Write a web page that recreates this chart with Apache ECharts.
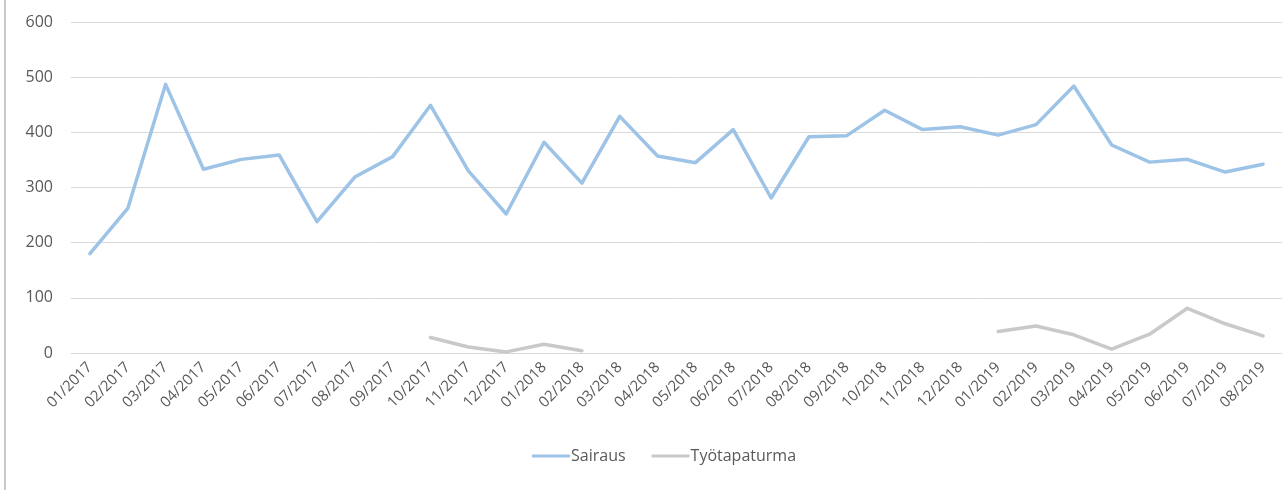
<!DOCTYPE html>
<html>
<head>
<meta charset="utf-8">
<script src="https://cdn.jsdelivr.net/npm/echarts@6/dist/echarts.min.js"></script>
<style>
  html, body { margin: 0; padding: 0; background: #fff; }
  #chart { width: 1282px; height: 490px; }
  #frame { position: absolute; left: 4px; top: 0; width: 2px; height: 490px; background: #c8c8c8; }
</style>
</head>
<body>
<div id="frame"></div>
<div id="chart"></div>
<script>
const months = ['01/2017', '02/2017', '03/2017', '04/2017', '05/2017', '06/2017', '07/2017', '08/2017',
  '09/2017', '10/2017', '11/2017', '12/2017', '01/2018', '02/2018', '03/2018', '04/2018', '05/2018',
  '06/2018', '07/2018', '08/2018', '09/2018', '10/2018', '11/2018', '12/2018', '01/2019', '02/2019',
  '03/2019', '04/2019', '05/2019', '06/2019', '07/2019', '08/2019'];

const sairaus = [180, 262, 487, 333, 351, 359, 238, 319, 356, 449, 330, 252, 382, 308, 429, 357,
  345, 405, 281, 392, 394, 440, 405, 410, 395, 414, 484, 377, 346, 351, 328, 342];

const tyotapaturma = [null, null, null, null, null, null, null, null, null, 28, 11, 2, 16, 4, null, null,
  null, null, null, null, null, null, null, null, 39, 49, 33, 7, 34, 81, 53, 31];

const yTicks = { min: 0, max: 600, interval: 100 };

const chart = echarts.init(document.getElementById('chart'));
const font = '"Open Sans", "Noto Sans", sans-serif';

chart.setOption({
  animation: false,
  textStyle: { fontFamily: font },
  grid: { left: 71, right: -2, top: 22, bottom: 137 },
  legend: {
    bottom: 21,
    left: 527,
    itemWidth: 38,
    itemHeight: 3,
    itemGap: 26,
    icon: 'roundRect',
    textStyle: { color: '#595959', fontSize: 16, fontFamily: font, padding: [0, 0, 0, -4] },
    data: ['Sairaus', 'Työtapaturma']
  },
  xAxis: {
    type: 'category',
    data: months,
    boundaryGap: true,
    axisLine: { show: true, lineStyle: { color: '#d9d9d9', width: 1 } },
    axisTick: { show: false },
    axisLabel: {
      interval: 0,
      rotate: 45,
      color: '#595959',
      fontSize: 15,
      margin: 12,
      fontFamily: font
    }
  },
  yAxis: {
    type: 'value',
    min: yTicks.min,
    max: yTicks.max,
    interval: yTicks.interval,
    axisLine: { show: false },
    axisTick: { show: false },
    axisLabel: { color: '#595959', fontSize: 16, margin: 18, fontFamily: font },
    splitLine: { lineStyle: { color: '#d9d9d9', width: 1 } }
  },
  series: [
    {
      name: 'Sairaus',
      type: 'line',
      data: sairaus,
      symbol: 'none',
      lineStyle: { color: '#9dc3e6', width: 3.5, cap: 'round', join: 'round' },
      itemStyle: { color: '#9dc3e6' }
    },
    {
      name: 'Työtapaturma',
      type: 'line',
      data: tyotapaturma,
      symbol: 'none',
      connectNulls: false,
      lineStyle: { color: '#c9c9c9', width: 3.5, cap: 'round', join: 'round' },
      itemStyle: { color: '#c9c9c9' }
    }
  ]
});
</script>
</body>
</html>
